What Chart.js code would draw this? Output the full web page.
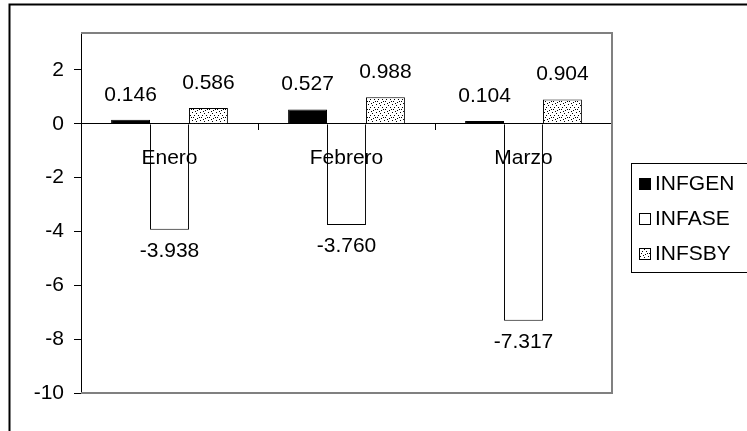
<!DOCTYPE html>
<html>
<head>
<meta charset="utf-8">
<script src="https://cdn.jsdelivr.net/npm/chart.js@4"></script>
<style>
  html, body { margin: 0; padding: 0; background: #fff; }
  #wrap { width: 747px; height: 431px; }
</style>
</head>
<body>
<div id="wrap"><canvas id="c" width="747" height="431"></canvas></div>
<script>
// Monthly inflation components
const months = ['Enero', 'Febrero', 'Marzo'];
const infgen = [0.146, 0.527, 0.104];
const infase = [-3.938, -3.760, -7.317];
const infsby = [0.586, 0.988, 0.904];
const seriesNames = ['INFGEN', 'INFASE', 'INFSBY'];
const yTickValues = [-10, -8, -6, -4, -2, 0, 2];

const FONT = { family: "'Liberation Sans', Arial, sans-serif", size: 21 };

// sparse black dots on white for the third series
function dotPattern() {
  const c = document.createElement('canvas');
  c.width = 8; c.height = 8;
  const g = c.getContext('2d');
  g.fillStyle = '#fff';
  g.fillRect(0, 0, 8, 8);
  g.fillStyle = '#000';
  const pts = [[0,0],[4,1],[2,3],[6,3],[1,5],[5,6],[3,7],[7,5]];
  pts.forEach(([x, y]) => g.fillRect(x, y, 1, 1));
  return g.createPattern(c, 'repeat');
}

const fills = ['#000000', '#ffffff', dotPattern()];

// outer frame
const framePlugin = {
  id: 'frame',
  beforeDraw(chart) {
    const ctx = chart.ctx;
    ctx.save();
    ctx.fillStyle = '#fff';
    ctx.fillRect(0, 0, chart.width, chart.height);
    ctx.strokeStyle = '#000';
    ctx.lineWidth = 2;
    ctx.strokeRect(9.5, 4.5, 900, 600);
    ctx.restore();
  }
};

// grey plot-area border
const plotBorderPlugin = {
  id: 'plotBorder',
  beforeDatasetsDraw(chart) {
    const { ctx, chartArea: a } = chart;
    ctx.save();
    ctx.strokeStyle = '#808080';
    ctx.lineWidth = 2;
    ctx.beginPath();
    ctx.moveTo(a.left, a.top);
    ctx.lineTo(a.right, a.top);
    ctx.lineTo(a.right, a.bottom);
    ctx.lineTo(a.left, a.bottom);
    ctx.stroke();
    ctx.restore();
  }
};

// value labels above / below each bar
const valueLabelPlugin = {
  id: 'valueLabels',
  afterDatasetsDraw(chart) {
    const ctx = chart.ctx;
    ctx.save();
    ctx.font = `${FONT.size}px ${FONT.family}`;
    ctx.fillStyle = '#000';
    ctx.textAlign = 'center';
    ctx.textBaseline = 'middle';
    chart.data.datasets.forEach((ds, i) => {
      const meta = chart.getDatasetMeta(i);
      meta.data.forEach((bar, j) => {
        const v = ds.data[j];
        const y = v >= 0 ? bar.y - 25 : bar.y + 21;
        ctx.fillText(v.toFixed(3), bar.x, y);
      });
    });
    ctx.restore();
  }
};

// boxed legend at the right
const legendPlugin = {
  id: 'boxLegend',
  afterDraw(chart) {
    const ctx = chart.ctx;
    ctx.save();
    ctx.strokeStyle = '#000';
    ctx.lineWidth = 1;
    ctx.strokeRect(631.5, 163.5, 200, 109);
    ctx.font = `${FONT.size}px ${FONT.family}`;
    ctx.textBaseline = 'middle';
    ctx.textAlign = 'left';
    const ys = [183, 218, 253];
    chart.data.datasets.forEach((ds, i) => {
      const y = ys[i];
      ctx.fillStyle = ds.backgroundColor;
      ctx.fillRect(639, y - 5, 12, 12);
      ctx.strokeStyle = '#000';
      ctx.strokeRect(639.5, y - 4.5, 11, 11);
      ctx.fillStyle = '#000';
      ctx.fillText(ds.label, 655, y + 1);
    });
    ctx.restore();
  }
};

new Chart(document.getElementById('c'), {
  type: 'bar',
  data: {
    labels: months,
    datasets: [
      { label: seriesNames[0], data: infgen, backgroundColor: fills[0], borderColor: '#000', borderWidth: 1 },
      { label: seriesNames[1], data: infase, backgroundColor: fills[1], borderColor: '#000', borderWidth: 1 },
      { label: seriesNames[2], data: infsby, backgroundColor: fills[2], borderColor: '#000', borderWidth: 1 }
    ]
  },
  options: {
    responsive: false,
    animation: false,
    devicePixelRatio: 1,
    layout: { padding: { left: 0, top: 33, right: 135, bottom: 38 } },
    datasets: { bar: { categoryPercentage: 0.66, barPercentage: 1 } },
    plugins: {
      legend: { display: false },
      tooltip: { enabled: false }
    },
    scales: {
      x: {
        type: 'category',
        position: { y: 0 },
        offset: true,
        grid: { display: true, drawOnChartArea: false, offset: true, tickLength: 6, color: '#000', lineWidth: 1 },
        border: { display: true, color: '#000', width: 1 },
        ticks: { font: FONT, color: '#000', padding: 16, maxRotation: 0, z: 1 }
      },
      y: {
        min: -10,
        max: 3.37,
        afterBuildTicks(scale) {
          scale.ticks = yTickValues.map(v => ({ value: v }));
        },
        afterFit(scale) { scale.width = 81; },
        grid: { display: true, drawOnChartArea: false, tickLength: 7, color: '#000', lineWidth: 1 },
        border: { display: true, color: '#000', width: 1 },
        ticks: { font: FONT, color: '#000', padding: 10, callback: v => String(v) }
      }
    }
  },
  plugins: [framePlugin, plotBorderPlugin, valueLabelPlugin, legendPlugin]
});
</script>
</body>
</html>
